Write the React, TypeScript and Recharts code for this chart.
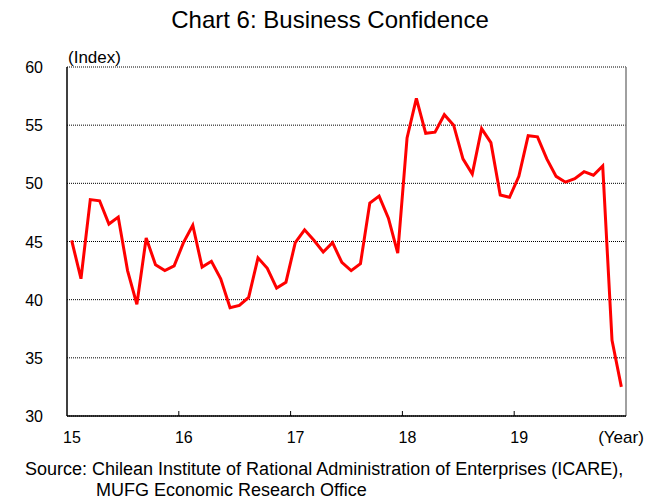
import React from 'react';
import { LineChart, Line, XAxis, YAxis, CartesianGrid, ReferenceLine } from 'recharts';

// Monthly business confidence index, Jan 2015 - Dec 2019
const yearLabels = ['15', '16', '17', '18', '19'];
const confidence = [
  45.1, 41.8, 48.6, 48.5, 46.5, 47.1, 42.5, 39.6, 45.3, 43.0, 42.5, 42.9,
  44.9, 46.4, 42.8, 43.3, 41.8, 39.3, 39.5, 40.2, 43.6, 42.7, 41.0, 41.5,
  44.9, 46.0, 45.1, 44.1, 44.9, 43.2, 42.5, 43.1, 48.3, 48.9, 47.0, 44.0,
  53.9, 57.3, 54.3, 54.4, 55.9, 55.0, 52.1, 50.8, 54.7, 53.5, 49.0, 48.8,
  50.6, 54.1, 54.0, 52.1, 50.6, 50.1, 50.4, 51.0, 50.7, 51.5, 36.5, 32.5,
];
const yTicks = [30, 35, 40, 45, 50, 55, 60];
const xTicks = [0, 12, 24, 36, 48, 60];

const FONT = '"Liberation Sans", Arial, sans-serif';

const chartData = confidence.map((v, i) => ({ m: i + 0.5, v }));

const YearTick = (props: any) => {
  const { x, y, payload } = props;
  const idx = xTicks.indexOf(payload.value);
  const isEnd = payload.value === 60;
  const label = isEnd ? '(Year)' : yearLabels[idx];
  return (
    <g>
      {!isEnd && idx > 0 && <line x1={x} y1={y} x2={x} y2={y - 5} stroke="#000" strokeWidth={1} />}
      <text
        x={isEnd ? x - 5 : x + 5}
        y={y + 27}
        textAnchor="middle"
        fontSize={isEnd ? 17 : 16}
        fontFamily={FONT}
        fill="#000"
      >
        {label}
      </text>
    </g>
  );
};

const ValueTick = (props: any) => {
  const { y, payload } = props;
  return (
    <text x={43} y={y} dy={6} textAnchor="end" fontSize={16} fontFamily={FONT} fill="#000">
      {payload.value}
    </text>
  );
};

export default function App() {
  return (
    <div style={{ position: 'absolute', left: 0, top: 0, width: 658, height: 499, background: '#fff', fontFamily: FONT }}>
      <div style={{ position: 'absolute', left: 0, top: 8, width: 660, textAlign: 'center', fontSize: 24, lineHeight: '24px' }}>
        Chart 6: Business Confidence
      </div>
      <LineChart width={658} height={499} data={chartData} margin={{ top: 67, right: 32, bottom: 58, left: 17 }}>
        <CartesianGrid vertical={false} horizontal stroke="#000" strokeDasharray="1 1" horizontalValues={yTicks} />
        <XAxis
          dataKey="m"
          type="number"
          domain={[0, 60]}
          ticks={xTicks}
          tick={<YearTick />}
          tickLine={false}
          tickSize={0}
          tickMargin={0}
          height={25}
          axisLine={{ stroke: '#000', strokeWidth: 1.5 }}
        />
        <YAxis
          type="number"
          domain={[30, 60]}
          ticks={yTicks}
          tick={<ValueTick />}
          tickLine={false}
          width={50}
          axisLine={{ stroke: '#000', strokeWidth: 1.5 }}
        />
        <ReferenceLine x={60} stroke="#808080" strokeWidth={1.5} />
        <Line type="linear" dataKey="v" stroke="#ff0000" strokeWidth={3} dot={false} isAnimationActive={false} />
      </LineChart>
      <div style={{ position: 'absolute', left: 68, top: 49, fontSize: 17, lineHeight: '17px' }}>(Index)</div>
      <div style={{ position: 'absolute', left: 25, top: 459.3, fontSize: 18, lineHeight: '21px', whiteSpace: 'nowrap' }}>
        Source: Chilean Institute of Rational Administration of Enterprises (ICARE),
        <br />
        <span style={{ paddingLeft: 71 }}>MUFG Economic Research Office</span>
      </div>
    </div>
  );
}
